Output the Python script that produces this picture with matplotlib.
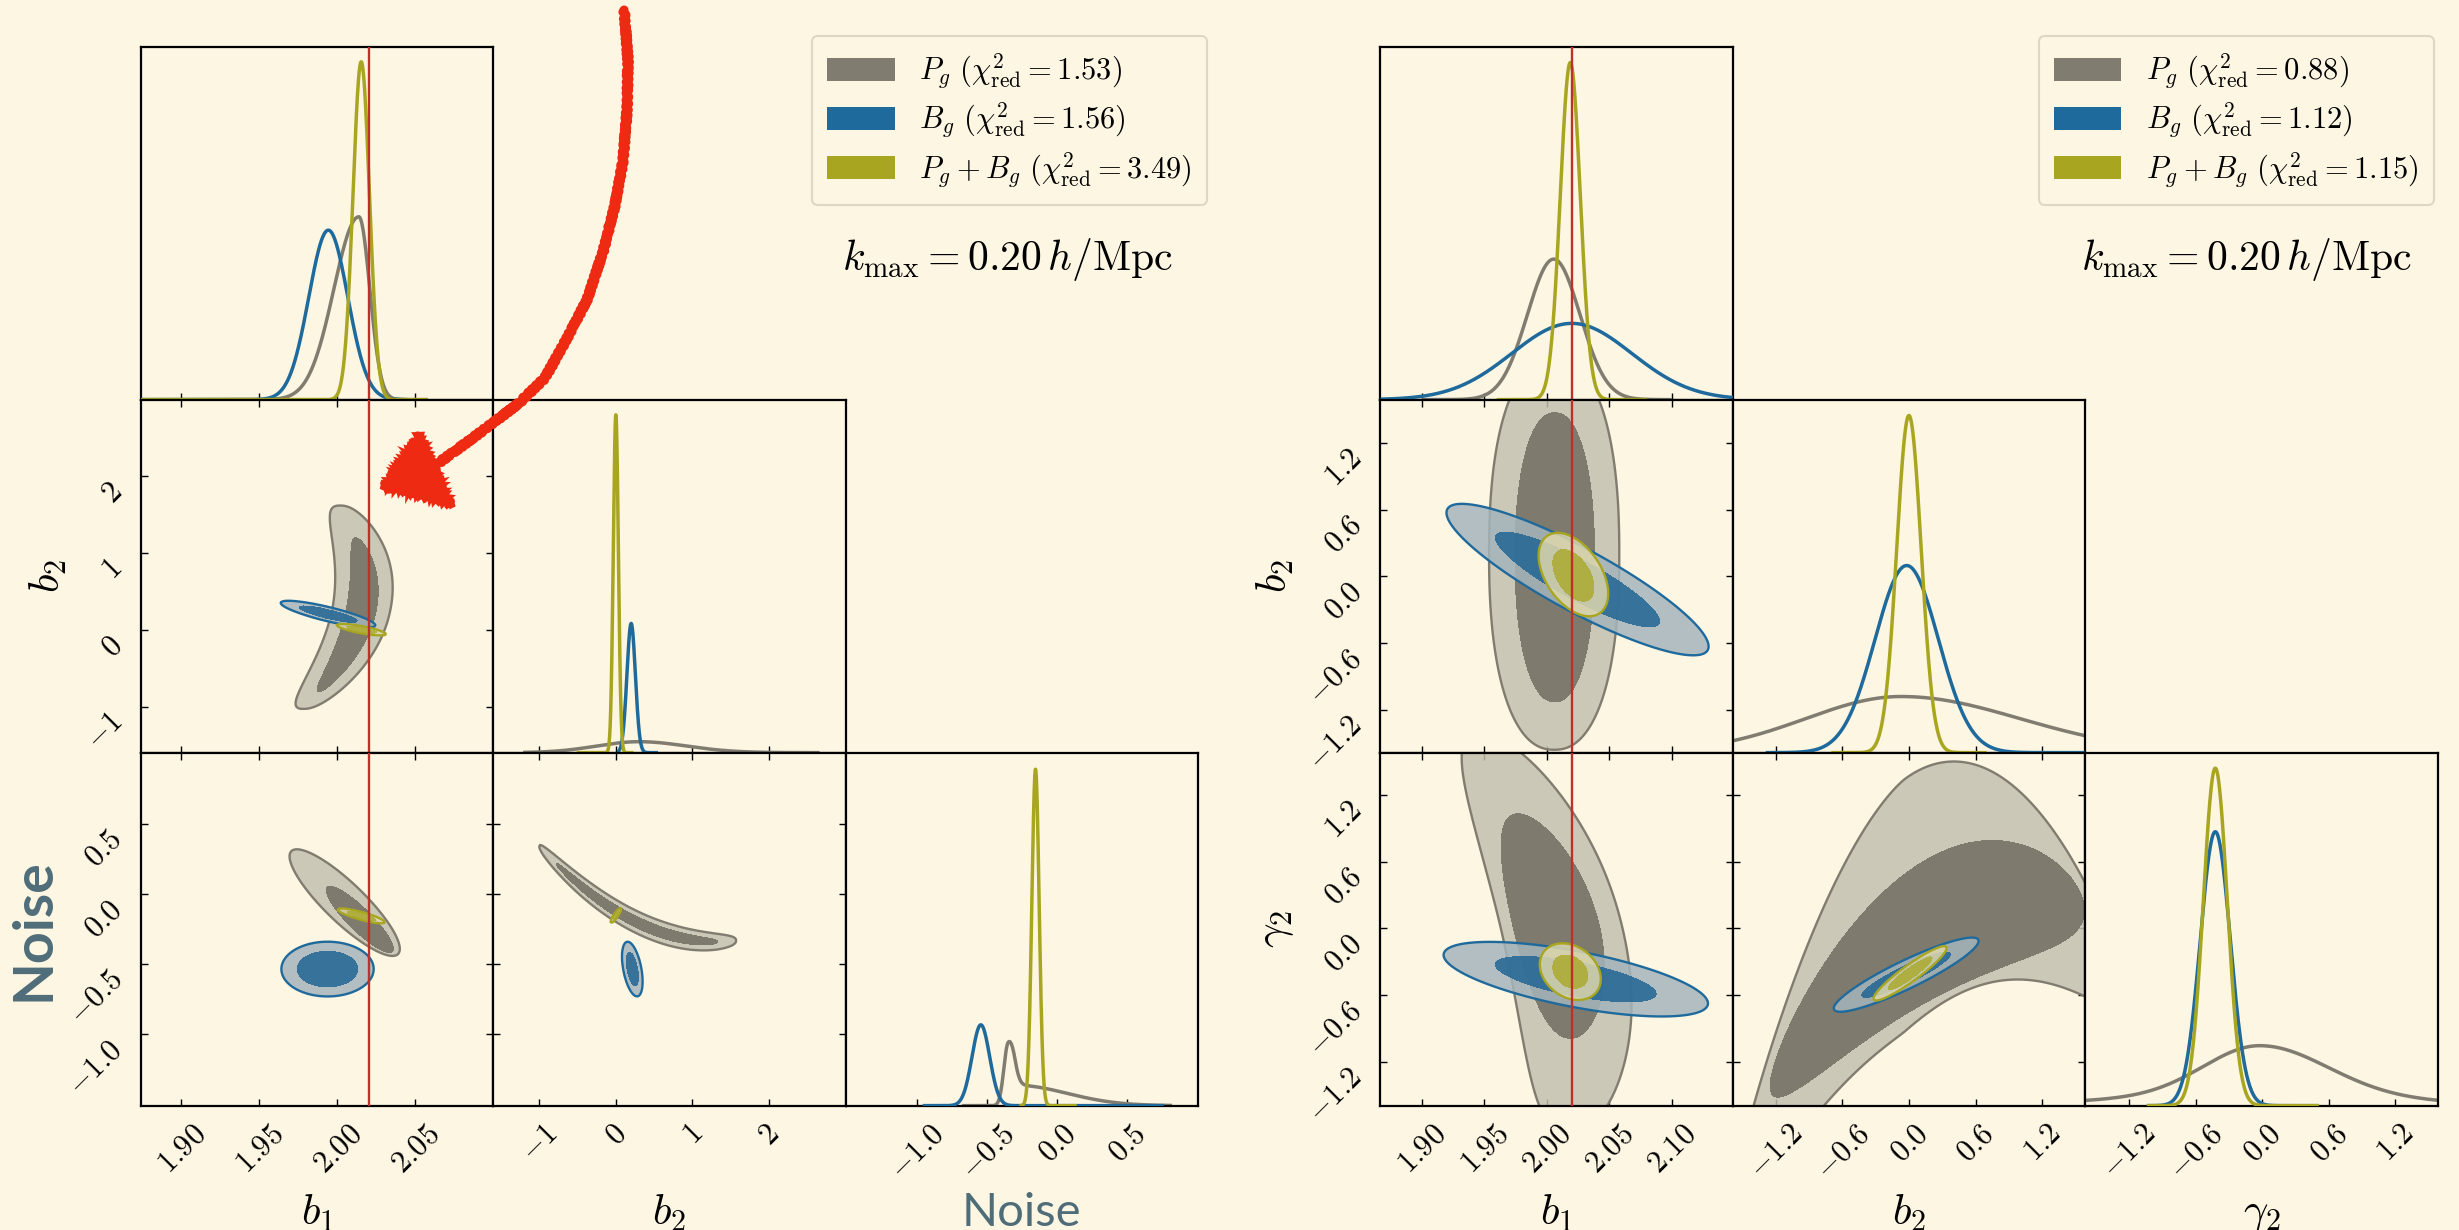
import numpy as np
import matplotlib.pyplot as plt
from matplotlib.patches import Patch, Polygon
from matplotlib.lines import Line2D

plt.rcParams['mathtext.fontset'] = 'cm'
plt.rcParams['font.family'] = 'DejaVu Serif'

BG = '#fdf6e3'
series = ['Pg', 'Bg', 'PgBg']
names = [r'P_g', r'B_g', r'P_g + B_g']
LINE = {'Pg': '#807c70', 'Bg': '#1f6a9c', 'PgBg': '#a8a620'}
FILL_OUT = {'Pg': '#c3c0b0', 'Bg': '#a5b5bb', 'PgBg': '#ded7ac'}
FILL_IN = {'Pg': '#7a766a', 'Bg': '#216594', 'PgBg': '#a8a620'}
ALPHA_IN = {'Pg': 0.95, 'Bg': 0.85, 'PgBg': 0.75}
TRUTH = '#c0302a'
ARROW = '#ee2a12'
NOISE_COLOR = '#4f6d79'

left_chi2 = [1.53, 1.56, 3.49]
right_chi2 = [0.88, 1.12, 1.15]
b1_truth = 2.02

# ---- parameter axes -------------------------------------------------------
left_labels = [r'$b_1$', r'$b_2$', 'Noise']
left_limits = [(1.874, 2.100), (-1.60, 3.00), (-1.51, 1.005)]
left_ticks = [[1.90, 1.95, 2.00, 2.05], [-1, 0, 1, 2], [-1.0, -0.5, 0.0, 0.5]]
left_fmt = ['{:.2f}', '{:.0f}', '{:.1f}']

right_labels = [r'$b_1$', r'$b_2$', r'$\gamma_2$']
right_limits = [(1.867, 2.149), (-1.586, 1.588), (-1.595, 1.58)]
right_ticks = [[1.90, 1.95, 2.00, 2.05, 2.10], [-1.2, -0.6, 0.0, 0.6, 1.2],
               [-1.2, -0.6, 0.0, 0.6, 1.2]]
right_fmt = ['{:.2f}', '{:.1f}', '{:.1f}']

# ---- 1D marginals: split-normal pieces (height, peak, sigma_l, sigma_r) + sampled range
left_1d = [
    [([(0.518, 2.0138, 0.016, 0.007)], (1.874, 2.058)),
     ([(0.480, 1.9942, 0.0125, 0.0125)], (1.874, 2.045)),
     ([(0.957, 2.0153, 0.0053, 0.0053)], (1.874, 2.058))],
    [([(0.031, 0.30, 0.55, 0.62)], (-1.21, 2.66)),
     ([(0.366, 0.20, 0.055, 0.055)], (0.02, 0.55)),
     ([(0.957, 0.00, 0.033, 0.033)], (-0.51, 0.23))],
    [([(0.165, -0.352, 0.03, 0.04), (0.058, -0.30, 0.03, 0.367)], (-0.68, 0.82)),
     ([(0.229, -0.545, 0.063, 0.063)], (-0.96, 0.76)),
     ([(0.953, -0.155, 0.026, 0.026)], (-0.27, 0.14))],
]
right_1d = [
    [([(0.398, 2.0056, 0.021, 0.021)], (1.90, 2.10)),
     ([(0.216, 2.0201, 0.048, 0.048)], (1.867, 2.149)),
     ([(0.955, 2.0189, 0.008, 0.008)], (1.96, 2.08))],
    [([(0.159, -0.07, 0.86, 1.07)], (-1.586, 1.588)),
     ([(0.530, -0.02, 0.285, 0.285)], (-1.29, 1.588)),
     ([(0.955, 0.00, 0.11, 0.11)], (-0.70, 0.70))],
    [([(0.14, -0.02, 0.5, 0.6), (0.03, -0.10, 1.2, 1.2)], (-1.595, 1.58)),
     ([(0.776, -0.423, 0.135, 0.135)], (-1.04, 0.51)),
     ([(0.956, -0.423, 0.108, 0.108)], (-1.04, 0.51))],
]


def ring(cx, cy, orient, L, S, tilt=0.0, curve=0.0, n=2.0):
    """Credible region outline: centre, long-axis orientation, half extents."""
    return (cx, cy, orient, L, S, tilt, curve, n)


# ---- 2D credible regions (95% outer, 68% inner) keyed by (x index, y index)
left_2d = {
    (0, 1): [
        (ring(2.0152, 0.25, 'v', (1.28, 1.37), 0.0187, 0.0102, -0.0146, 2.5),
         ring(2.0152, 0.25, 'v', (1.06, 0.95), 0.0097, 0.0102, -0.0146)),
        (ring(1.994, 0.205, 'h', 0.0304, 0.095, -4.8),
         ring(1.994, 0.205, 'h', 0.0188, 0.058, -4.8)),
        (ring(2.0154, 0.0025, 'h', 0.0158, 0.048, -3.7),
         ring(2.0154, 0.0025, 'h', 0.0097, 0.030, -3.7)),
    ],
    (0, 2): [
        (ring(2.0047, -0.0635, 'v', 0.38, 0.0176, -0.0807),
         ring(2.0144, -0.184, 'v', 0.236, 0.010, -0.0807)),
        (ring(1.9937, -0.537, 'v', 0.195, 0.0296),
         ring(1.9937, -0.537, 'v', 0.127, 0.0194)),
        (ring(2.0153, -0.158, 'h', 0.0151, 0.029, -2.98),
         ring(2.0153, -0.158, 'h', 0.0093, 0.018, -2.98)),
    ],
    (1, 2): [
        (ring(0.285, -0.206, 'h', 1.285, 0.08, -0.261, 0.1257, 2.5),
         ring(0.285, -0.206, 'h', (1.065, 1.045), 0.04, -0.261, 0.1257, 2.5)),
        (ring(0.215, -0.537, 'v', 0.195, 0.12, -0.315),
         ring(0.215, -0.537, 'v', 0.12, 0.07, -0.315)),
        (ring(0.0, -0.155, 'v', 0.053, 0.035, 1.14),
         ring(0.0, -0.155, 'v', 0.033, 0.02, 1.14)),
    ],
}
right_2d = {
    (0, 1): [
        (ring(2.006, 0.20, 'v', 1.76, 0.0521, n=2.3),
         ring(2.0065, 0.17, 'v', 1.30, 0.0318, n=2.2)),
        (ring(2.0247, -0.03, 'h', 0.1049, 0.32, -5.73),
         ring(2.0247, -0.03, 'h', 0.0656, 0.20, -5.73)),
        (ring(2.0214, 0.015, 'v', 0.375, 0.0248, -0.0337),
         ring(2.0214, 0.0075, 'v', 0.232, 0.0145, -0.0337)),
    ],
    (0, 2): [
        (ring(2.012, 0.0, 'v', (1.85, 1.75), 0.0487, -0.0208, -0.00939, 2.2),
         ring(2.0076, 0.02, 'v', 1.01, 0.0346, -0.0208, -0.00939)),
        (ring(2.0233, -0.4575, 'h', 0.1058, 0.255, -2.06),
         ring(2.0233, -0.4575, 'h', 0.0643, 0.155, -2.06)),
        (ring(2.0189, -0.39, 'v', 0.255, 0.0236, -0.0247),
         ring(2.0189, -0.39, 'v', 0.15, 0.0135, -0.0247)),
    ],
    (1, 2): [
        (ring(-0.05, 0.232, 'h', (1.6, 2.08), (1.17, 1.1), 0.82, -0.62, 1.5),
         ring(0.2, 0.0, 'h', (1.45, 1.38), 0.64, 0.537, -0.305)),
        (ring(-0.025, -0.417, 'h', 0.653, 0.14, 0.464),
         ring(-0.025, -0.417, 'h', 0.40, 0.085, 0.464)),
        (ring(0.01, -0.405, 'h', 0.33, 0.09, 0.69),
         ring(0.01, -0.405, 'h', 0.20, 0.055, 0.69)),
    ],
}


def marginal(x, pieces):
    y = np.zeros_like(x)
    for amp, mu, sl, sr in pieces:
        s = np.where(x < mu, sl, sr)
        y += amp * np.exp(-0.5 * ((x - mu) / s) ** 2)
    return y


def ring_field(X, Y, r):
    cx, cy, orient, L, S, tilt, curve, n = r
    if orient == 'h':
        t = X - cx
        w = Y - (cy + tilt * t + curve * t ** 2)
    else:
        t = Y - cy
        w = X - (cx + tilt * t + curve * t ** 2)
    Ln, Lp = L if isinstance(L, tuple) else (L, L)
    Sn, Sp = S if isinstance(S, tuple) else (S, S)
    Lt = np.where(t < 0, Ln, Lp)
    St = np.where(w < 0, Sn, Sp)
    return np.abs(t / Lt) ** n + np.abs(w / St) ** n


def tick_text(v, fmt):
    return '$' + fmt.format(v) + '$'


fig = plt.figure(figsize=(24.59, 12.30), dpi=100)
fig.patch.set_facecolor(BG)

PW, PH, Y0 = 0.1433, 0.287, 0.1011
TICK_SIZE = 22


def draw_corner(x0, labels, limits, ticks, fmts, marg, joint, ylab_x):
    for i in range(3):
        for j in range(i + 1):
            ax = fig.add_axes([x0 + j * PW, Y0 + (2 - i) * PH, PW, PH])
            ax.set_facecolor(BG)
            for sp in ax.spines.values():
                sp.set_linewidth(1.6)
            ax.set_xlim(limits[j])
            ax.set_xticks(ticks[j], [tick_text(v, fmts[j]) for v in ticks[j]])
            if i == j:
                for k, s in enumerate(series):
                    pieces, (lo, hi) = marg[i][k]
                    x = np.linspace(lo, hi, 800)
                    ax.plot(x, marginal(x, pieces), color=LINE[s], lw=2.5,
                            zorder=2 + k, solid_capstyle='butt')
                ax.set_ylim(0, 1)
                ax.set_yticks([])
                ax.tick_params(axis='x', direction='in', length=5, width=1.0)
            else:
                ax.set_ylim(limits[i])
                ax.set_yticks(ticks[i], [tick_text(v, fmts[i]) for v in ticks[i]])
                (xa, xb), (ya, yb) = limits[j], limits[i]
                gx = np.linspace(xa - 0.5 * (xb - xa), xb + 0.5 * (xb - xa), 500)
                gy = np.linspace(ya - 0.5 * (yb - ya), yb + 0.5 * (yb - ya), 500)
                X, Y = np.meshgrid(gx, gy)
                for k, s in enumerate(series):
                    outer, inner = joint[(j, i)][k]
                    fo = ring_field(X, Y, outer)
                    fi = ring_field(X, Y, inner)
                    ax.contourf(X, Y, fo, levels=[-1, 1], colors=[FILL_OUT[s]],
                                alpha=0.85, zorder=2 + k)
                    ax.contourf(X, Y, fi, levels=[-1, 1], colors=[FILL_IN[s]],
                                alpha=ALPHA_IN[s], zorder=2 + k)
                    ax.contour(X, Y, fo, levels=[1], colors=[LINE[s]],
                               linewidths=1.7, zorder=2 + k)
                ax.tick_params(direction='in', length=5, width=1.0,
                               top=True, right=True)
            ax.tick_params(labelbottom=(i == 2), labelleft=(j == 0 and i > 0))
            if i == 2:
                ax.tick_params(axis='x', labelsize=TICK_SIZE, pad=9, labelrotation=45)
                for lab in ax.get_xticklabels():
                    lab.set_ha('center')
                    lab.set_va('top')
                if labels[j] == 'Noise':
                    ax.set_xlabel('Noise', family='Lato', fontsize=34,
                                  color=NOISE_COLOR)
                else:
                    ax.set_xlabel(labels[j], fontsize=31)
                ax.xaxis.set_label_coords(0.5, -0.245)
            if j == 0 and i > 0:
                ax.tick_params(axis='y', labelsize=TICK_SIZE, pad=9, labelrotation=45)
                for lab in ax.get_yticklabels():
                    lab.set_ha('right')
                    lab.set_va('top')
                if labels[i] == 'Noise':
                    ax.set_ylabel('Noise', family='Lato', fontweight='bold',
                                  fontsize=40, color=NOISE_COLOR)
                else:
                    ax.set_ylabel(labels[i], fontsize=31)
                ax.yaxis.set_label_coords(ylab_x[i], 0.5)
            if j == 0:
                ax.axvline(b1_truth, color=TRUTH, lw=1.7, zorder=10)


draw_corner(0.0573, left_labels, left_limits, left_ticks, left_fmt,
            left_1d, left_2d, [None, -0.205, -0.233])
draw_corner(0.5614, right_labels, right_limits, right_ticks, right_fmt,
            right_1d, right_2d, [None, -0.24, -0.24])

# legends and scale cut
for chi2, anchor, kx in [(left_chi2, 0.4909, 0.4099), (right_chi2, 0.9898, 0.9138)]:
    handles = [Patch(facecolor=LINE[s], edgecolor='none') for s in series]
    texts = [r'$%s\ (\chi^2_{\rm red} = %.2f)$' % (nm, c) for nm, c in zip(names, chi2)]
    leg = fig.legend(handles, texts, loc='upper right', bbox_to_anchor=(anchor, 0.9707),
                     fontsize=22, frameon=True, fancybox=True, framealpha=0.8,
                     facecolor=BG, edgecolor='#d6d0bd', handlelength=2.2,
                     handleheight=0.8, borderpad=0.5, labelspacing=0.3,
                     handletextpad=0.8, borderaxespad=0.0)
    leg.get_frame().set_linewidth(1.5)
    fig.text(kx, 0.7894, r'$k_{\rm max} = 0.20\,h/{\rm Mpc}$', ha='center',
             va='center', fontsize=30)

# hand-drawn pointer onto the b1-b2 panel
arrow_x = [0.2538, 0.2554, 0.2550, 0.2534, 0.2501, 0.2452, 0.2387, 0.2302,
           0.2216, 0.2111, 0.2005, 0.1895, 0.1789]
arrow_y = [0.9919, 0.9512, 0.9106, 0.8699, 0.8333, 0.7951, 0.7561, 0.7236,
           0.6927, 0.6724, 0.6561, 0.6398, 0.6244]
for lw, sk in [(6.5, (1.5, 6, 2)), (3.0, (3.0, 3, 2))]:
    shaft = Line2D(arrow_x, arrow_y, transform=fig.transFigure, color=ARROW,
                   lw=lw, solid_capstyle='round', solid_joinstyle='round', zorder=20)
    shaft.set_sketch_params(*sk)
    fig.add_artist(shaft)
head = Polygon([(0.1555, 0.6041), (0.1706, 0.6480), (0.1840, 0.5890)], closed=True,
               transform=fig.transFigure, facecolor=ARROW, edgecolor=ARROW, lw=3,
               zorder=20)
head.set_sketch_params(2.5, 4, 2)
fig.add_artist(head)

fig.savefig('out.png', dpi=100, facecolor=BG)
